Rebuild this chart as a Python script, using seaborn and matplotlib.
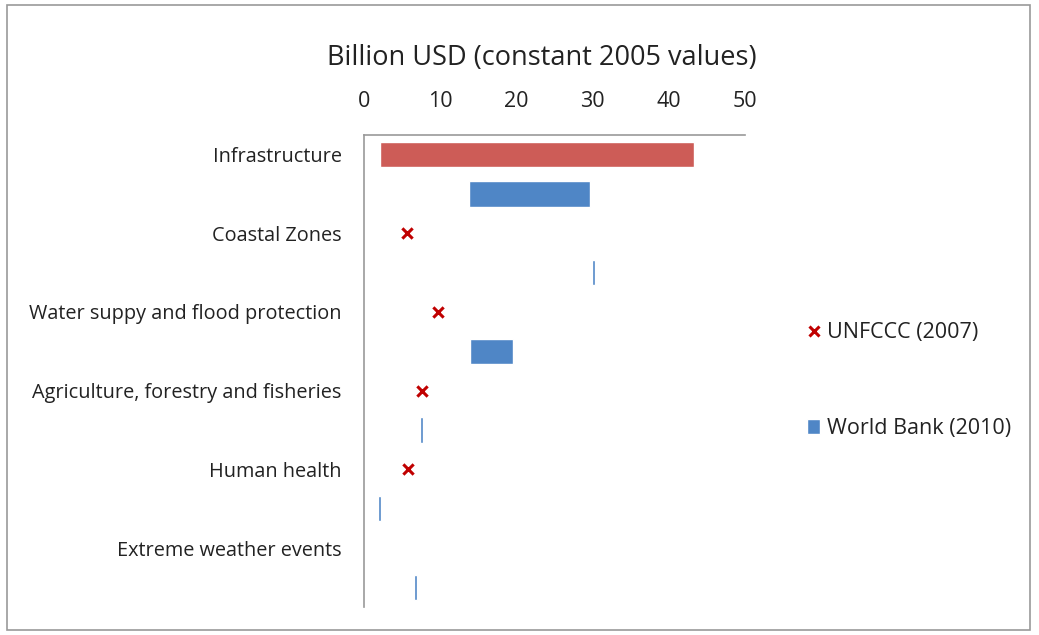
import numpy as np
import pandas as pd
import matplotlib
matplotlib.use("Agg")
import matplotlib.pyplot as plt
import seaborn as sns
from matplotlib.lines import Line2D
from matplotlib.patches import Patch, Rectangle

sns.set_style("white")
plt.rcParams['font.family'] = ['Open Sans', 'DejaVu Sans']

# 数据（十亿美元，2005年不变价）
categories = ['Infrastructure', 'Coastal Zones', 'Water suppy and flood protection',
              'Agriculture, forestry and fisheries', 'Human health', 'Extreme weather events']
unfccc_low = [2.1, 5.7, 9.7, 7.6, 5.8, np.nan]
unfccc_high = [43.3, 5.7, 9.7, 7.6, 5.8, np.nan]
wb_low = [13.8, 29.9, 13.9, 7.4, 1.8, 6.6]
wb_high = [29.6, 30.3, 19.5, 7.8, 2.2, 6.9]
x_ticks = [0, 10, 20, 30, 40, 50]

df = pd.DataFrame({'category': categories,
                   'unfccc_low': unfccc_low, 'unfccc_high': unfccc_high,
                   'wb_low': wb_low, 'wb_high': wb_high})
df['pos_u'] = np.arange(len(df)) * 2
df['pos_w'] = df['pos_u'] + 1

red_bar = '#CD5C57'
red_x = '#C00000'
blue = '#4F86C6'

fig = plt.figure(figsize=(10.39, 6.35), dpi=100)
ax = fig.add_axes([364 / 1039, 1 - 607 / 635, (745 - 364) / 1039, (607 - 135) / 635])

# UNFCCC 区间（只有范围的画成条形）
rng = df[df['unfccc_high'] > df['unfccc_low']]
ax.barh(rng['pos_u'], rng['unfccc_high'] - rng['unfccc_low'], left=rng['unfccc_low'],
        height=0.62, color=red_bar)
# UNFCCC 单点
pts = df[df['unfccc_high'] == df['unfccc_low']]
sns.scatterplot(data=pts, x='unfccc_low', y='pos_u', marker='x', s=55,
                color=red_x, linewidth=2.2, ax=ax, legend=False)

# World Bank 区间
ax.barh(df['pos_w'], df['wb_high'] - df['wb_low'], left=df['wb_low'],
        height=0.64, color=blue)

ax.set_xlim(0, 50)
ax.set_ylim(11.5, -0.5)
ax.set_xticks(x_ticks)
ax.xaxis.tick_top()
ax.tick_params(axis='x', length=0, pad=16.5, labelsize=15.5, colors='#222222')
ax.set_yticks(df['pos_u'])
ax.set_yticklabels(df['category'])
ax.tick_params(axis='y', length=0, pad=16, labelsize=14.3, colors='#222222')
ax.set_xlabel('')
ax.set_ylabel('')
for s in ['right', 'bottom']:
    ax.spines[s].set_visible(False)
for s in ['top', 'left']:
    ax.spines[s].set_color('#999999')
    ax.spines[s].set_linewidth(1.2)

fig.text(542 / 1039, 1 - 58 / 635, 'Billion USD (constant 2005 values)',
         ha='center', va='center', fontsize=19.5, color='#222222')

handles = [Line2D([], [], marker='x', color=red_x, linestyle='none', markersize=7,
                  markeredgewidth=2.2),
           Patch(facecolor=blue)]
fig.legend(handles, ['UNFCCC (2007)', 'World Bank (2010)'], loc='upper left',
           bbox_to_anchor=(788 / 1039, 1 - 303 / 635), frameon=False,
           fontsize=15.5, labelspacing=3.45, handlelength=0.6, handletextpad=0.3,
           labelcolor='#222222')

# 图表外框
fig.patches.append(Rectangle((7 / 1039, 5 / 635), 1023 / 1039, 625 / 635,
                             transform=fig.transFigure, fill=False,
                             edgecolor='#999999', linewidth=1.2))

fig.savefig('out.png', dpi=100)
